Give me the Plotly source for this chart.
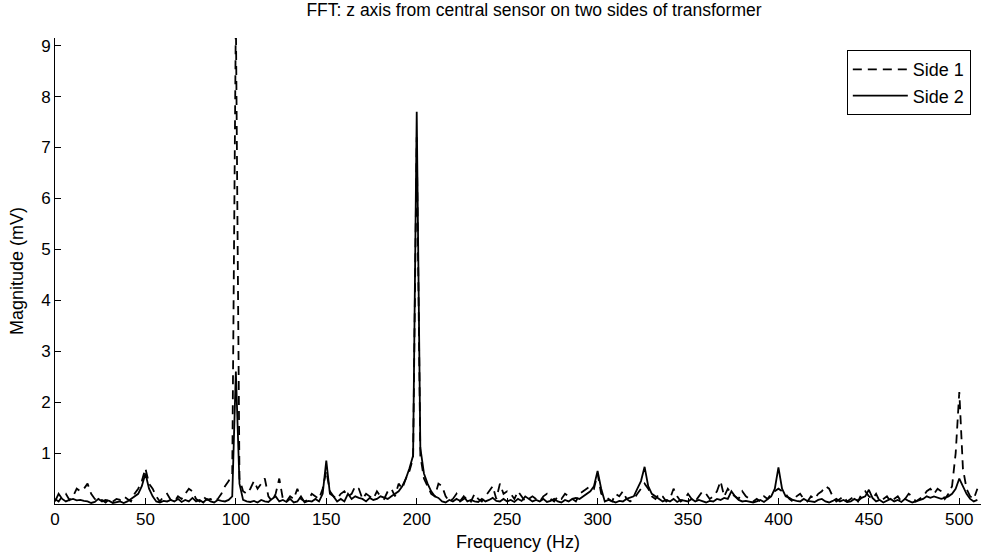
import plotly.graph_objects as go

# FFT bins: 0, 2, 4, ... 510 Hz
freq_hz = list(range(0, 512, 2))

# Side 1 (dashed), 10 values per row = 20 Hz per row
side1_mv = [
    0.10, 0.05, 0.15, 0.20, 0.08, 0.15, 0.30, 0.25, 0.30, 0.40,   # 0-18
    0.20, 0.10, 0.05, 0.08, 0.03, 0.10, 0.05, 0.10, 0.08, 0.15,   # 20-38
    0.10, 0.05, 0.20, 0.30, 0.45, 0.70, 0.40, 0.30, 0.15, 0.05,   # 40-58
    0.15, 0.20, 0.08, 0.05, 0.15, 0.10, 0.20, 0.30, 0.25, 0.10,   # 60-78
    0.05, 0.15, 0.08, 0.10, 0.05, 0.10, 0.20, 0.35, 0.45, 0.60,   # 80-98
    9.60, 0.50, 0.25, 0.20, 0.30, 0.45, 0.30, 0.40, 0.50, 0.15,   # 100-118
    0.05, 0.20, 0.50, 0.10, 0.05, 0.15, 0.10, 0.30, 0.10, 0.05,   # 120-138
    0.08, 0.20, 0.15, 0.10, 0.30, 0.65, 0.25, 0.15, 0.10, 0.20,   # 140-158
    0.25, 0.15, 0.20, 0.35, 0.30, 0.10, 0.20, 0.15, 0.10, 0.25,   # 160-178
    0.15, 0.10, 0.25, 0.30, 0.15, 0.40, 0.30, 0.50, 0.65, 0.90,   # 180-198
    7.20, 0.95, 0.50, 0.35, 0.20, 0.15, 0.40, 0.35, 0.15, 0.05,   # 200-218
    0.10, 0.20, 0.05, 0.10, 0.15, 0.05, 0.20, 0.10, 0.05, 0.15,   # 220-238
    0.25, 0.35, 0.10, 0.40, 0.20, 0.25, 0.20, 0.10, 0.25, 0.15,   # 240-258
    0.05, 0.10, 0.15, 0.10, 0.05, 0.15, 0.20, 0.10, 0.05, 0.15,   # 260-278
    0.10, 0.20, 0.15, 0.10, 0.05, 0.20, 0.25, 0.30, 0.35, 0.30,   # 280-298
    0.60, 0.20, 0.15, 0.10, 0.05, 0.20, 0.15, 0.25, 0.10, 0.05,   # 300-318
    0.10, 0.20, 0.30, 0.40, 0.30, 0.15, 0.10, 0.20, 0.15, 0.05,   # 320-338
    0.10, 0.30, 0.15, 0.05, 0.10, 0.20, 0.10, 0.05, 0.15, 0.25,   # 340-358
    0.20, 0.10, 0.15, 0.25, 0.45, 0.15, 0.30, 0.20, 0.15, 0.10,   # 360-378
    0.25, 0.15, 0.10, 0.05, 0.10, 0.05, 0.15, 0.10, 0.20, 0.25,   # 380-398
    0.30, 0.25, 0.20, 0.10, 0.05, 0.15, 0.20, 0.10, 0.05, 0.15,   # 400-418
    0.10, 0.20, 0.25, 0.35, 0.30, 0.15, 0.05, 0.10, 0.15, 0.05,   # 420-438
    0.10, 0.15, 0.05, 0.20, 0.25, 0.15, 0.10, 0.20, 0.05, 0.10,   # 440-458
    0.15, 0.05, 0.10, 0.15, 0.05, 0.10, 0.20, 0.15, 0.05, 0.10,   # 460-478
    0.15, 0.25, 0.30, 0.20, 0.30, 0.25, 0.10, 0.20, 0.35, 1.00,   # 480-498
    2.20, 0.70, 0.30, 0.15, 0.10, 0.30,                           # 500-510
]

# Side 2 (solid)
side2_mv = [
    0.05, 0.20, 0.10, 0.05, 0.08, 0.10, 0.07, 0.08, 0.06, 0.05,   # 0-18
    0.02, 0.04, 0.10, 0.05, 0.08, 0.06, 0.02, 0.03, 0.05, 0.02,   # 20-38
    0.05, 0.10, 0.15, 0.20, 0.35, 0.60, 0.30, 0.15, 0.05, 0.03,   # 40-58
    0.06, 0.05, 0.08, 0.05, 0.10, 0.04, 0.08, 0.05, 0.12, 0.05,   # 60-78
    0.08, 0.03, 0.10, 0.05, 0.03, 0.08, 0.06, 0.05, 0.08, 0.15,   # 80-98
    2.60, 0.40, 0.08, 0.05, 0.04, 0.06, 0.03, 0.08, 0.05, 0.04,   # 100-118
    0.10, 0.15, 0.05, 0.08, 0.04, 0.10, 0.03, 0.05, 0.15, 0.03,   # 120-138
    0.06, 0.05, 0.10, 0.05, 0.20, 0.85, 0.20, 0.15, 0.05, 0.10,   # 140-158
    0.05, 0.20, 0.10, 0.15, 0.12, 0.10, 0.05, 0.12, 0.08, 0.10,   # 160-178
    0.15, 0.12, 0.10, 0.15, 0.20, 0.25, 0.35, 0.50, 0.70, 0.95,   # 180-198
    7.70, 1.10, 0.60, 0.40, 0.25, 0.15, 0.12, 0.05, 0.03, 0.08,   # 200-218
    0.05, 0.10, 0.06, 0.15, 0.05, 0.08, 0.05, 0.04, 0.10, 0.05,   # 220-238
    0.08, 0.12, 0.06, 0.05, 0.10, 0.05, 0.08, 0.04, 0.10, 0.06,   # 240-258
    0.15, 0.10, 0.05, 0.08, 0.05, 0.10, 0.04, 0.06, 0.10, 0.05,   # 260-278
    0.03, 0.08, 0.05, 0.10, 0.12, 0.10, 0.15, 0.20, 0.25, 0.35,   # 280-298
    0.65, 0.30, 0.05, 0.08, 0.05, 0.03, 0.06, 0.05, 0.10, 0.12,   # 300-318
    0.15, 0.30, 0.45, 0.73, 0.35, 0.20, 0.15, 0.10, 0.05, 0.08,   # 320-338
    0.05, 0.10, 0.04, 0.08, 0.06, 0.05, 0.10, 0.05, 0.08, 0.05,   # 340-358
    0.03, 0.06, 0.05, 0.10, 0.08, 0.12, 0.10, 0.25, 0.15, 0.08,   # 360-378
    0.05, 0.06, 0.04, 0.03, 0.05, 0.08, 0.04, 0.10, 0.15, 0.30,   # 380-398
    0.72, 0.30, 0.15, 0.12, 0.08, 0.06, 0.05, 0.10, 0.06, 0.05,   # 400-418
    0.04, 0.08, 0.10, 0.05, 0.03, 0.06, 0.10, 0.05, 0.08, 0.04,   # 420-438
    0.05, 0.10, 0.06, 0.12, 0.15, 0.28, 0.12, 0.05, 0.08, 0.03,   # 440-458
    0.06, 0.10, 0.05, 0.08, 0.04, 0.10, 0.06, 0.03, 0.05, 0.08,   # 460-478
    0.10, 0.15, 0.12, 0.15, 0.12, 0.10, 0.12, 0.15, 0.20, 0.30,   # 480-498
    0.50, 0.35, 0.20, 0.10, 0.05, 0.08,                           # 500-510
]

x_ticks = [0, 50, 100, 150, 200, 250, 300, 350, 400, 450, 500]
y_ticks = [1, 2, 3, 4, 5, 6, 7, 8, 9]

FONT = "Arial, Liberation Sans, sans-serif"

fig = go.Figure()
fig.add_trace(go.Scatter(
    x=freq_hz, y=side1_mv, mode="lines", name="Side 1",
    line=dict(color="black", width=1.8, dash="9px,6px"),
))
fig.add_trace(go.Scatter(
    x=freq_hz, y=side2_mv, mode="lines", name="Side 2",
    line=dict(color="black", width=1.8),
))

fig.update_layout(
    width=981, height=555,
    margin=dict(l=55, r=0, t=38, b=51),
    paper_bgcolor="white", plot_bgcolor="white",
    font=dict(family=FONT, size=17, color="black"),
    title=dict(text="FFT: z axis from central sensor on two sides of transformer",
               xref="container", x=534 / 981, xanchor="center",
               y=1 - 10 / 555, yanchor="middle",
               font=dict(size=17.5, family=FONT, color="black")),
    showlegend=True,
    legend=dict(x=0.989, y=0.974, xanchor="right", yanchor="top",
                bgcolor="white", bordercolor="black", borderwidth=1,
                font=dict(size=18, family=FONT), tracegroupgap=0,
                itemwidth=55),
    xaxis=dict(range=[0, 512], tickvals=x_ticks, ticks="inside", ticklen=6,
               tickcolor="black", showline=True, linecolor="black", linewidth=1,
               showgrid=False, zeroline=False, mirror=False, automargin=False,
               title=dict(text="Frequency (Hz)", standoff=6, font=dict(size=18)),
               tickfont=dict(size=17)),
    yaxis=dict(range=[0, 9.15], tickvals=y_ticks, ticks="inside", ticklen=6,
               tickcolor="black", showline=True, linecolor="black", linewidth=1,
               showgrid=False, zeroline=False, mirror=False, automargin=False,
               title=dict(text="Magnitude (mV)", standoff=12, font=dict(size=18)),
               tickfont=dict(size=17)),
)

fig.write_html("out.html", config={"displayModeBar": False},
               post_script="document.body.style.margin='0px';")
